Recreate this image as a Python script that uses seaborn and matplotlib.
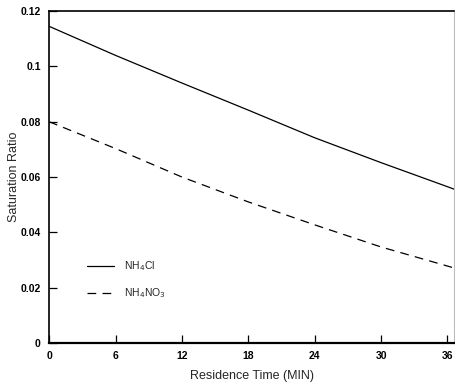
import matplotlib
matplotlib.use("Agg")
import matplotlib.pyplot as plt
import seaborn as sns
import pandas as pd

# Residence time (min) and saturation ratios for the two salts
time_min = [0, 6, 12, 18, 24, 30, 36, 36.6]
nh4cl = [0.1145, 0.1040, 0.0940, 0.0842, 0.0742, 0.0652, 0.0565, 0.0556]
nh4no3 = [0.0800, 0.0703, 0.0600, 0.0510, 0.0427, 0.0347, 0.0278, 0.0271]

series_labels = ["NH$_4$Cl", "NH$_4$NO$_3$"]
x_ticks = [0, 6, 12, 18, 24, 30, 36]
y_ticks = [0, 0.02, 0.04, 0.06, 0.08, 0.1, 0.12]
y_ticklabels = ["0", "0.02", "0.04", "0.06", "0.08", "0.1", "0.12"]

df = pd.DataFrame({
    "time": time_min * 2,
    "ratio": nh4cl + nh4no3,
    "salt": [series_labels[0]] * len(time_min) + [series_labels[1]] * len(time_min),
})

sns.set_theme(style="white")
plt.rcParams["font.family"] = ["Liberation Sans", "DejaVu Sans"]

fig = plt.figure(figsize=(4.55, 3.84), dpi=100)
ax = fig.add_axes([0.108, 0.107, 0.89, 0.864])

sns.lineplot(data=df, x="time", y="ratio", hue="salt", style="salt",
             palette=["black", "black"],
             dashes={series_labels[0]: "", series_labels[1]: (7, 5)},
             linewidth=0.9, ax=ax, legend=True)

ax.set_xlim(0, 36.6)
ax.set_ylim(0, 0.12)
ax.set_xticks(x_ticks)
ax.set_xticklabels([str(t) for t in x_ticks])
ax.set_yticks(y_ticks)
ax.set_yticklabels(y_ticklabels)
ax.tick_params(direction="in", length=6, width=0.9, colors="black",
               labelsize=7.5, pad=6, bottom=True, left=True)
for lbl in ax.get_xticklabels() + ax.get_yticklabels():
    lbl.set_fontweight("bold")

ax.set_xlabel("Residence Time (MIN)", fontsize=9)
ax.set_ylabel("Saturation Ratio", fontsize=9)
ax.xaxis.set_label_coords(0.5, -0.083)
ax.yaxis.set_label_coords(-0.072, 0.5)

for side in ["left", "bottom", "top"]:
    ax.spines[side].set_color("black")
ax.spines["left"].set_linewidth(1.2)
ax.spines["bottom"].set_linewidth(1.6)
ax.spines["top"].set_linewidth(1.2)
ax.spines["right"].set_color("#bbbbbb")
ax.spines["right"].set_linewidth(0.8)

leg = ax.legend(loc="lower left", bbox_to_anchor=(0.07, 0.1), frameon=False,
                handlelength=2.6, handletextpad=1.0, labelspacing=1.3,
                fontsize=7.5, title=None)

fig.savefig("out.png", dpi=100)
